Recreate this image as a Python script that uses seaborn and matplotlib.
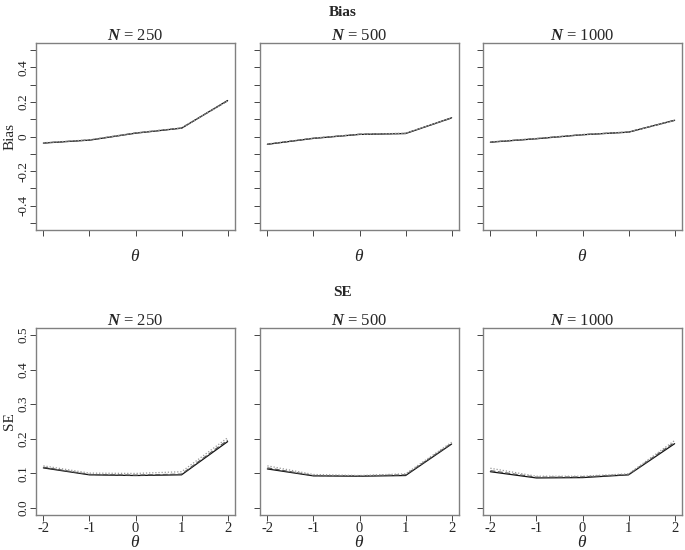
import matplotlib
matplotlib.use("Agg")
import matplotlib.pyplot as plt
import seaborn as sns
import pandas as pd

theta = [-2, -1, 0, 1, 2]
sample_sizes = [250, 500, 1000]
methods = ["M1", "M2", "M3"]

# bias per sample size, one list per method (solid, dashed, dotted)
bias_250 = [[-0.038, -0.021, 0.019, 0.048, 0.208],
            [-0.037, -0.020, 0.020, 0.049, 0.206],
            [-0.036, -0.019, 0.021, 0.050, 0.205]]
bias_500 = [[-0.045, -0.011, 0.012, 0.017, 0.108],
            [-0.044, -0.010, 0.013, 0.018, 0.107],
            [-0.043, -0.009, 0.013, 0.019, 0.106]]
bias_1000 = [[-0.033, -0.013, 0.010, 0.025, 0.094],
             [-0.032, -0.012, 0.011, 0.026, 0.093],
             [-0.031, -0.011, 0.011, 0.026, 0.092]]

se_250 = [[0.116, 0.096, 0.094, 0.096, 0.192],
          [0.118, 0.097, 0.095, 0.098, 0.196],
          [0.122, 0.101, 0.100, 0.105, 0.203]]
se_500 = [[0.113, 0.093, 0.092, 0.094, 0.185],
          [0.116, 0.094, 0.093, 0.096, 0.187],
          [0.122, 0.097, 0.094, 0.099, 0.190]]
se_1000 = [[0.105, 0.087, 0.088, 0.096, 0.186],
           [0.108, 0.089, 0.090, 0.097, 0.190],
           [0.115, 0.092, 0.092, 0.099, 0.195]]

bias_yticks = [-0.5, -0.4, -0.3, -0.2, -0.1, 0, 0.1, 0.2, 0.3, 0.4, 0.5]
bias_ylabels = ["", "-0.4", "", "-0.2", "", "0", "", "0.2", "", "0.4", ""]
se_yticks = [0.0, 0.1, 0.2, 0.3, 0.4, 0.5]
se_ylabels = ["0.0", "0.1", "0.2", "0.3", "0.4", "0.5"]


def to_frame(rows):
    recs = []
    for m, vals in zip(methods, rows):
        for t, v in zip(theta, vals):
            recs.append({"theta": t, "value": v, "method": m})
    return pd.DataFrame(recs)


sns.set_style("white")
plt.rcParams["font.family"] = ["Liberation Serif", "DejaVu Serif"]
plt.rcParams["mathtext.fontset"] = "custom"
plt.rcParams["mathtext.it"] = "Liberation Serif:italic"
plt.rcParams["mathtext.rm"] = "Liberation Serif"
plt.rcParams["mathtext.bf"] = "Liberation Serif:bold:italic"

fig = plt.figure(figsize=(6.85, 5.5), dpi=100)

lefts = [36 / 685, 260 / 685, 483 / 685]
w = 199 / 685
h = 187 / 550
bottoms = [1 - 230 / 550, 1 - 515 / 550]
xlab_y = [-0.145, -0.152]

rows = [("Bias", [bias_250, bias_500, bias_1000], (-0.5, 0.5), bias_yticks, bias_ylabels),
        ("SE", [se_250, se_500, se_1000], (0.0, 0.5), se_yticks, se_ylabels)]

styles = {"M1": "", "M2": (4, 2), "M3": (1, 1.5)}
palette = {"M1": "#111111", "M2": "#555555", "M3": "#999999"}
frame_col = "#808080"

for r, (name, data, ylim, yticks, ylabels) in enumerate(rows):
    for c, n in enumerate(sample_sizes):
        ax = fig.add_axes([lefts[c], bottoms[r], w, h])
        df = to_frame(data[c])
        sns.lineplot(data=df, x="theta", y="value", hue="method", style="method",
                     dashes=styles, palette=palette, linewidth=0.9,
                     legend=False, ax=ax)
        pad_y = (ylim[1] - ylim[0]) * 0.04
        ax.set_xlim(-2 - 0.16, 2 + 0.16)
        ax.set_ylim(ylim[0] - pad_y, ylim[1] + pad_y)
        ax.set_xticks(theta)
        ax.set_yticks(yticks)
        if r == 0:
            ax.set_xticklabels([])
        else:
            ax.set_xticklabels([str(t) for t in theta], fontsize=10.5)
        if c == 0:
            ax.set_yticklabels(ylabels, rotation=90, va="center", fontsize=9.5)
            ax.set_ylabel(name, fontsize=11)
            ax.yaxis.set_label_coords(-0.1, 0.5)
        else:
            ax.set_yticklabels([])
            ax.set_ylabel("")
        ax.set_xlabel(r"$\theta$", fontsize=12.5, va="center")
        ax.xaxis.set_label_coords(0.5, xlab_y[r])
        ax.tick_params(axis="both", direction="out", length=4, width=0.7,
                       color="#444444", pad=1, left=True, bottom=True)
        for s in ax.spines.values():
            s.set_color(frame_col)
            s.set_linewidth(1.0)
        ax.set_title(r"$\mathbf{N}$ = " + str(n), fontsize=12, pad=2)

fig.text(0.5, 1 - 12 / 550, "Bias", ha="center", va="center",
         fontsize=11, fontweight="bold")
fig.text(0.5, 1 - 292 / 550, "SE", ha="center", va="center",
         fontsize=11, fontweight="bold")

fig.savefig("out.png", dpi=100)
